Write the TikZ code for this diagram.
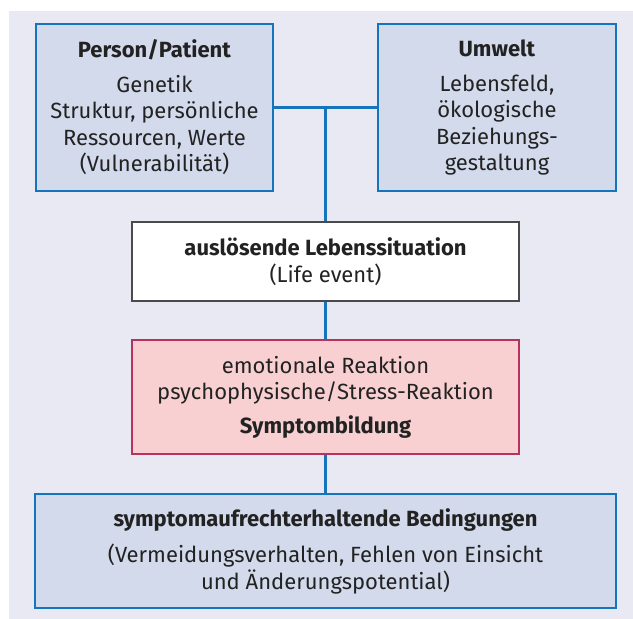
\documentclass[tikz,border=0pt]{standalone}
\usepackage{fontspec}
\setmainfont{Fira Sans}
\definecolor{bgc}{HTML}{E8E9F3}
\definecolor{boxfill}{HTML}{D3DAEC}
\definecolor{blueline}{HTML}{1674BC}
\definecolor{pinkfill}{HTML}{F8D0D2}
\definecolor{pinkline}{HTML}{B8325E}
\definecolor{greyline}{HTML}{4A4A4A}
\definecolor{txt}{HTML}{222222}
\begin{document}
\begin{tikzpicture}[x=1pt,y=-1pt,
  box/.style={draw=blueline, fill=boxfill, line width=1.2pt, inner sep=0pt, text=txt, align=center},
  lifebox/.style={draw=greyline, fill=white, line width=1.2pt, inner sep=0pt, text=txt, align=center},
  pinkbox/.style={draw=pinkline, fill=pinkfill, line width=1.2pt, inner sep=0pt, text=txt, align=center},
  conn/.style={draw=blueline, line width=3pt},
  font=\fontsize{22}{26.5}\selectfont]
\useasboundingbox (0,0) rectangle (633,619);
\fill[bgc] (9,11) rectangle (633,619);
\node[box, minimum width=237pt, minimum height=167pt] (person) at (154.5,107.5)
  {\textbf{Person/Patient}\\[8pt]Genetik\\Struktur, persönliche\\Ressourcen, Werte\\(Vulnerabilität)};
\node[box, minimum width=238pt, minimum height=167pt] (umwelt) at (497,107.5)
  {\textbf{Umwelt}\\[8pt]Lebensfeld,\\ökologische\\Beziehungs-\\gestaltung};
\node[lifebox, minimum width=387pt, minimum height=79pt] (life) at (325.5,261.5)
  {\textbf{auslösende Lebenssituation}\\(Life event)};
\node[pinkbox, minimum width=387pt, minimum height=114pt] (pink) at (325.5,397)
  {emotionale Reaktion\\psychophysische/Stress-Reaktion\\[7pt]\textbf{Symptombildung}};
\node[box, minimum width=581pt, minimum height=114pt] (bottom) at (325.5,551)
  {\textbf{symptomaufrechterhaltende Bedingungen}\\[10pt](Vermeidungsverhalten, Fehlen von Einsicht\\und Änderungspotential)};
\coordinate (junc) at (life.north |- person.east);
\draw[conn] (person.east) -- (umwelt.west);
\draw[conn] (junc) -- (life.north);
\draw[conn] (life.south) -- (pink.north);
\draw[conn] (pink.south) -- (bottom.north);
\end{tikzpicture}
\end{document}
